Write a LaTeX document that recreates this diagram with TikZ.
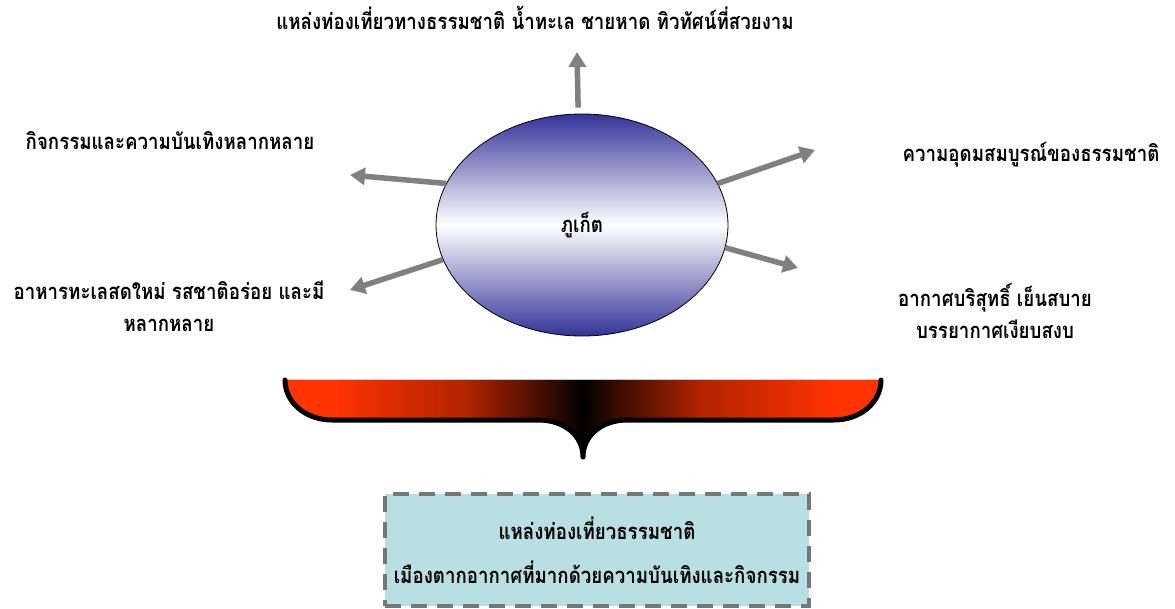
\documentclass[tikz,border=0pt]{standalone}
\usepackage{fontspec}
\usetikzlibrary{arrows.meta,shapes.geometric}
\newfontfamily\thai[Script=Thai,FakeStretch=0.85]{Loma}
\definecolor{arrgray}{HTML}{808080}
\definecolor{ellblue}{HTML}{333399}
\definecolor{brred}{HTML}{FF3300}
\definecolor{midred}{HTML}{B42400}
\definecolor{darkred}{HTML}{3A0C00}
\definecolor{boxfill}{HTML}{B8DFE2}
\definecolor{dashgray}{HTML}{777777}
\pgfdeclarehorizontalshading{bracketshade}{100bp}{color(0bp)=(brred); color(29bp)=(brred); color(40bp)=(midred); color(47bp)=(darkred); color(50bp)=(black); color(53bp)=(darkred); color(60bp)=(midred); color(71bp)=(brred); color(100bp)=(brred)}
\tikzset{
  lbl/.style={font=\thai\bfseries\fontsize{22}{32}\selectfont, align=center, inner sep=0pt, text=black},
  arr/.style={draw=arrgray, line width=5.5pt, -{Triangle[width=17pt,length=15pt]}},
  hub/.style={ellipse, draw=black, line width=0.8pt, minimum width=292pt, minimum height=222pt, inner sep=0pt,
    top color=ellblue, bottom color=ellblue, middle color=white},
  resultbox/.style={draw=dashgray, line width=4pt, dash pattern=on 16pt off 10pt, fill=boxfill,
    minimum width=424pt, minimum height=112pt, inner sep=0pt, align=center,
    font=\thai\bfseries\fontsize{22}{44}\selectfont}
}
\begin{document}
\begin{tikzpicture}[x=1pt,y=-1pt]
\useasboundingbox (0,0) rectangle (1175,609);
% hub
\node[hub] (e) at (582,225) {};
\node[lbl] (hubtxt) at (582,225) {ภูเก็ต};
% labels
\node[lbl] (ttop) at (535,18) {แหล่งท่องเที่ยวทางธรรมชาติ น้ำทะเล ชายหาด ทิวทัศน์ที่สวยงาม};
\node[lbl] (tul) at (170,141) {กิจกรรมและความบันเทิงหลากหลาย};
\node[lbl] (tll) at (169,306) {อาหารทะเลสดใหม่ รสชาติอร่อย และมี\\หลากหลาย};
\node[lbl] (tur) at (1031,155) {ความอุดมสมบูรณ์ของธรรมชาติ};
\node[lbl] (tlr) at (995,311) {อากาศบริสุทธิ์ เย็นสบาย\\บรรยากาศเงียบสงบ};
% arrow tips
\coordinate (ptop) at (577,52);
\coordinate (pul) at (350,175);
\coordinate (pll) at (350,290);
\coordinate (pur) at (815,150);
\coordinate (plr) at (798,268);
\draw[arr] ([yshift=6pt]e.92) -- (ptop);
\draw[arr] (e.163) -- (pul);
\draw[arr] (e.194) -- (pll);
\draw[arr] (e.17) -- (pur);
\draw[arr] (e.351) -- (plr);
% bracket
\coordinate (bl) at (285,380);
\coordinate (br) at (881,380);
\coordinate (btip) at (583,457);
\fill[shading=bracketshade]
  (bl) .. controls (285,402) and (305,420) .. (332,420) -- (538,420)
  .. controls (565,420) and (583,436) .. (btip)
  .. controls (583,436) and (601,420) .. (628,420) -- (834,420)
  .. controls (861,420) and (881,402) .. (br) -- cycle;
\draw[line width=5pt, line cap=round, line join=round]
  (bl) .. controls (285,402) and (305,420) .. (332,420) -- (538,420)
  .. controls (565,420) and (583,436) .. (btip)
  .. controls (583,436) and (601,420) .. (628,420) -- (834,420)
  .. controls (861,420) and (881,402) .. (br);
% result box
\node[resultbox] (res) at (597,550) {แหล่งท่องเที่ยวธรรมชาติ\\เมืองตากอากาศที่มากด้วยความบันเทิงและกิจกรรม};
\end{tikzpicture}
\end{document}
